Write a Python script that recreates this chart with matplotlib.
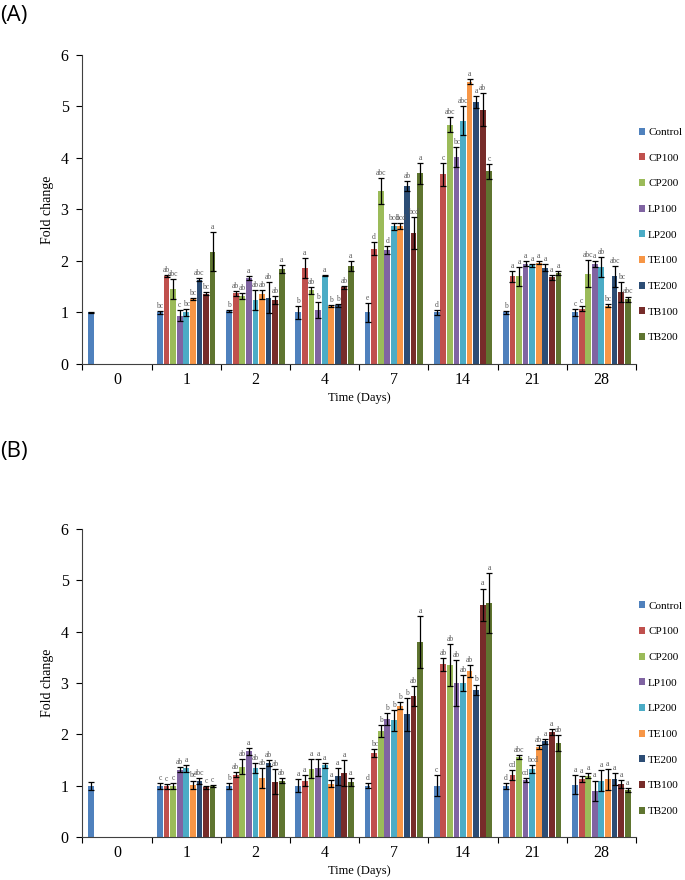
import numpy as np
import matplotlib.pyplot as plt

days = ["0", "1", "2", "4", "7", "14", "21", "28"]
groups = ["Control", "CP100", "CP200", "LP100", "LP200",
          "TE100", "TE200", "TB100", "TB200"]
colors = ["#4F81BD", "#C0504D", "#9BBB59", "#8064A2", "#4BACC6",
          "#F79646", "#2C4D75", "#772C2A", "#5F7530"]

# 第 0 天只有对照组 (均值, 误差)
a_day0 = (1.00, 0.01)
b_day0 = (1.00, 0.08)

# (A) 行: 第 1,2,4,7,14,21,28 天; 列: 各处理组
a_mean = np.array([
    [1.00, 1.71, 1.46, 0.94, 1.00, 1.26, 1.64, 1.36, 2.18],
    [1.02, 1.37, 1.32, 1.67, 1.24, 1.35, 1.29, 1.24, 1.85],
    [1.00, 1.86, 1.43, 1.05, 1.71, 1.12, 1.14, 1.49, 1.90],
    [1.00, 2.24, 3.36, 2.21, 2.67, 2.68, 3.45, 2.54, 3.70],
    [1.00, 3.68, 4.65, 4.02, 4.72, 5.48, 5.09, 4.94, 3.74],
    [1.00, 1.70, 1.70, 1.95, 1.92, 1.97, 1.87, 1.68, 1.77],
    [1.00, 1.07, 1.75, 1.94, 1.88, 1.13, 1.70, 1.40, 1.26],
])
a_err = np.array([
    [0.03, 0.02, 0.19, 0.10, 0.07, 0.02, 0.02, 0.03, 0.38],
    [0.02, 0.05, 0.05, 0.03, 0.20, 0.08, 0.30, 0.08, 0.08],
    [0.12, 0.20, 0.07, 0.15, 0.01, 0.02, 0.03, 0.03, 0.10],
    [0.19, 0.13, 0.25, 0.08, 0.06, 0.06, 0.10, 0.31, 0.20],
    [0.05, 0.23, 0.15, 0.20, 0.28, 0.05, 0.12, 0.32, 0.15],
    [0.03, 0.10, 0.18, 0.05, 0.03, 0.03, 0.07, 0.05, 0.04],
    [0.07, 0.05, 0.26, 0.05, 0.20, 0.03, 0.20, 0.20, 0.05],
])
a_letters = [
    ["bc", "ab", "abc", "c", "bc", "bc", "abc", "bc", "a"],
    ["b", "ab", "ab", "a", "ab", "ab", "ab", "ab", "a"],
    ["b", "a", "ab", "b", "a", "b", "b", "ab", "a"],
    ["e", "d", "abc", "d", "bcd", "bcd", "ab", "bcd", "a"],
    ["d", "c", "abc", "bc", "abc", "a", "a", "ab", "c"],
    ["b", "a", "a", "a", "a", "a", "a", "a", "a"],
    ["c", "c", "abc", "a", "ab", "bc", "abc", "bc", "abc"],
]

# (B)
b_mean = np.array([
    [1.00, 0.99, 1.00, 1.31, 1.34, 1.02, 1.09, 0.97, 1.00],
    [1.00, 1.21, 1.37, 1.67, 1.35, 1.15, 1.44, 1.08, 1.10],
    [1.00, 1.10, 1.33, 1.35, 1.40, 1.04, 1.18, 1.24, 1.07],
    [1.00, 1.63, 2.07, 2.30, 2.27, 2.56, 2.39, 2.75, 3.80],
    [1.00, 3.36, 3.35, 3.00, 3.00, 3.23, 2.87, 4.52, 4.56],
    [1.00, 1.21, 1.56, 1.11, 1.33, 1.76, 1.86, 2.04, 1.83],
    [1.02, 1.13, 1.19, 0.90, 1.10, 1.12, 1.13, 1.03, 0.92],
])
b_err = np.array([
    [0.06, 0.05, 0.06, 0.05, 0.07, 0.08, 0.06, 0.03, 0.02],
    [0.06, 0.05, 0.15, 0.07, 0.10, 0.20, 0.05, 0.25, 0.04],
    [0.13, 0.10, 0.18, 0.17, 0.05, 0.07, 0.17, 0.25, 0.07],
    [0.05, 0.08, 0.12, 0.12, 0.20, 0.07, 0.32, 0.20, 0.50],
    [0.20, 0.13, 0.40, 0.45, 0.16, 0.12, 0.10, 0.32, 0.58],
    [0.06, 0.10, 0.04, 0.03, 0.08, 0.04, 0.04, 0.06, 0.15],
    [0.18, 0.05, 0.05, 0.20, 0.20, 0.20, 0.12, 0.08, 0.04],
])
b_letters = [
    ["c", "c", "c", "ab", "a", "bc", "abc", "c", "c"],
    ["b", "ab", "ab", "a", "ab", "ab", "ab", "ab", "ab"],
    ["a", "a", "a", "a", "a", "a", "a", "a", "a"],
    ["d", "bc", "b", "b", "b", "b", "b", "ab", "a"],
    ["c", "ab", "ab", "ab", "ab", "ab", "b", "a", "a"],
    ["d", "cd", "abc", "cd", "bcd", "ab", "a", "a", "ab"],
    ["a", "a", "a", "a", "a", "a", "a", "a", "a"],
]

plt.rcParams["font.family"] = ["Liberation Serif", "DejaVu Serif"]


def draw_panel(ax, day0, mean, err, letters):
    n = len(groups)
    w = 0.095
    offs = (np.arange(n) - (n - 1) / 2) * w
    ekw = dict(ecolor="black", elinewidth=0.9, capthick=0.9)

    # 第 0 天对照
    ax.bar(offs[0], day0[0], w * 0.88, color=colors[0],
           yerr=day0[1], capsize=2.2, error_kw=ekw)

    x = np.arange(1, len(days))
    for j, g in enumerate(groups):
        ax.bar(x + offs[j], mean[:, j], w * 0.88, color=colors[j],
               yerr=err[:, j], capsize=2.2, error_kw=ekw, label=g)
        for i, xi in enumerate(x):
            ax.text(xi + offs[j], mean[i, j] + err[i, j] + 0.02,
                    letters[i][j], ha="center", va="bottom",
                    fontsize=5.5, color="#595959")

    ax.set_xlim(-0.5, len(days) - 0.5)
    ax.set_ylim(0, 6)
    ax.set_yticks(range(7))
    ax.set_xticks(np.arange(len(days) + 1) - 0.5)
    ax.set_xticklabels([])
    ax.set_xticks(np.arange(len(days)), minor=True)
    ax.set_xticklabels(days, minor=True)
    ax.tick_params(axis="x", which="minor", length=0, pad=6, labelsize=11.5)
    ax.tick_params(axis="x", which="major", length=4, width=0.8)
    ax.tick_params(axis="y", length=4, width=0.8, labelsize=11.5, pad=6)
    for s in ["top", "right"]:
        ax.spines[s].set_visible(False)
    for s in ["left", "bottom"]:
        ax.spines[s].set_color("#404040")
        ax.spines[s].set_linewidth(0.8)
    ax.set_xlabel("Time (Days)", fontsize=9, labelpad=3)
    ax.set_ylabel("Fold change", fontsize=10, labelpad=5)
    ax.legend(loc="upper left", bbox_to_anchor=(1.005, 0.765), frameon=False,
              fontsize=8, handlelength=0.6, handleheight=0.6,
              handletextpad=0.25, labelspacing=1.46, borderaxespad=0,
              borderpad=0)


fig = plt.figure(figsize=(6.85, 8.8), dpi=100)
ax_a = fig.add_axes([0.1204, 0.5864, 0.808, 0.3511])
ax_b = fig.add_axes([0.1204, 0.0489, 0.808, 0.3500])

draw_panel(ax_a, a_day0, a_mean, a_err, a_letters)
draw_panel(ax_b, b_day0, b_mean, b_err, b_letters)

fig.text(0.0, 0.982, "(A)", fontsize=16, family=["Open Sans", "DejaVu Sans"],
         va="center", ha="left")
fig.text(0.0, 0.4875, "(B)", fontsize=16, family=["Open Sans", "DejaVu Sans"],
         va="center", ha="left")

fig.savefig("out.png", dpi=100)
